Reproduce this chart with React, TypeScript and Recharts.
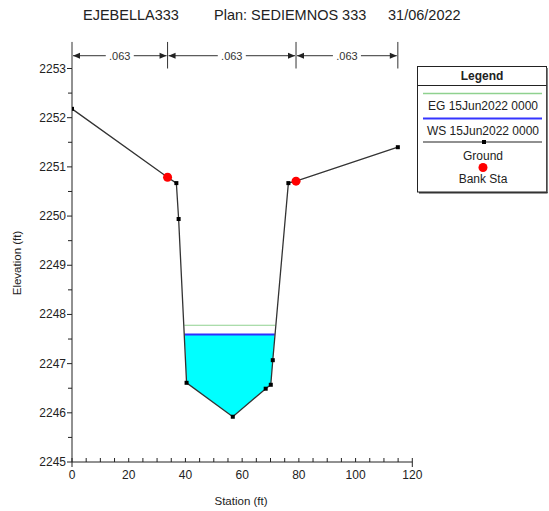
import React from 'react';
import { ComposedChart, Line, Area, XAxis, YAxis, ReferenceLine } from 'recharts';

// cross section ground (station ft, elevation ft)
const stations = [0, 33.7, 36.8, 37.6, 40.4, 56.7, 68.3, 70.1, 70.8, 76.3, 79.0, 114.9];
const elevations = [2252.18, 2250.79, 2250.67, 2249.94, 2246.61, 2245.92, 2246.49, 2246.57, 2247.07, 2250.67, 2250.71, 2251.40];
const bankStations = [33.7, 79.0];
const bankElevations = [2250.79, 2250.71];

const wsElev = 2247.59;
const wsEdges = [39.7, 71.5];
const egElev = 2247.78;
const egEdges = [39.6, 71.6];

// manning's n breaks along top
const nBreaks = [0, 33.7, 79.0, 114.9];
const nValues = ['.063', '.063', '.063'];

const xTicks = [0, 5, 10, 15, 20, 25, 30, 35, 40, 45, 50, 55, 60, 65, 70, 75, 80, 85, 90, 95, 100, 105, 110, 115, 120];
const yTicks = [2245, 2245.5, 2246, 2246.5, 2247, 2247.5, 2248, 2248.5, 2249, 2249.5, 2250, 2250.5, 2251, 2251.5, 2252, 2252.5, 2253];

const FONT = "'Liberation Sans', Arial, sans-serif";
const INK = '#222';

const ground = stations.map((x, i) => ({ x, y: elevations[i] }));
const banks = bankStations.map((x, i) => ({ x, y: bankElevations[i] }));
const wsLine = wsEdges.map(x => ({ x, y: wsElev }));
const egLine = egEdges.map(x => ({ x, y: egElev }));
const water = [
    { x: wsEdges[0], wet: [wsElev, wsElev] },
    ...ground.filter(p => p.x > wsEdges[0] && p.x < wsEdges[1]).map(p => ({ x: p.x, wet: [p.y, wsElev] })),
    { x: wsEdges[1], wet: [wsElev, wsElev] },
];

const XTick = ({ x, y, payload }: any) => {
    const v = payload.value;
    const major = v % 20 === 0;
    const end = v === 0 || v === 120;
    return (
        <g>
            <line x1={x} x2={x} y1={y - 4} y2={end ? y + 5 : y} stroke={INK} />
            {major && (
                <text x={x} y={y + 17} textAnchor="middle" fontSize={12} fontFamily={FONT} fill={INK}>{v}</text>
            )}
        </g>
    );
};

const YTick = ({ x, y, payload }: any) => {
    const v = payload.value;
    const major = Number.isInteger(v);
    return (
        <g>
            <line x1={x - (major ? 5 : 4)} x2={x} y1={y} y2={y} stroke={INK} />
            {major && (
                <text x={x - 6} y={y + 4} textAnchor="end" fontSize={12} fontFamily={FONT} fill={INK}>{v}</text>
            )}
        </g>
    );
};

const square = ({ cx, cy, index }: any) => (
    <rect key={`g${index}`} x={cx - 2} y={cy - 2} width={4} height={4} fill="#000" />
);

const bankDot = ({ cx, cy, index }: any) => (
    <circle key={`b${index}`} cx={cx} cy={cy} r={4.5} fill="#ff0000" />
);

const nArrow = (label: string) => (p: any) => {
    const { x1, x2, y1 } = p;
    const lo = Math.min(x1, x2), hi = Math.max(x1, x2);
    const mid = (lo + hi) / 2;
    const y = y1;
    return (
        <g>
            <line x1={lo + 1} x2={mid - 14} y1={y} y2={y} stroke="#333" />
            <line x1={mid + 14} x2={hi - 1} y1={y} y2={y} stroke="#333" />
            <polygon points={`${lo + 1},${y} ${lo + 8},${y - 3} ${lo + 8},${y + 3}`} fill="#222" />
            <polygon points={`${hi - 1},${y} ${hi - 8},${y - 3} ${hi - 8},${y + 3}`} fill="#222" />
            <text x={mid} y={y + 4} textAnchor="middle" fontSize={11} fontFamily={FONT} fill="#333">{label}</text>
        </g>
    );
};

const LegendBox = () => (
    <svg width={549} height={511} style={{ position: 'absolute', left: 0, top: 0, pointerEvents: 'none' }}>
        <g fontFamily={FONT} fontSize={12} fill={INK} textAnchor="middle">
            <rect x={417.5} y={66.5} width={129} height={125.5} fill="#fff" stroke={INK} />
            <line x1={547} x2={547} y1={68} y2={193} stroke="#555" strokeWidth={1.5} />
            <line x1={419} x2={547.5} y1={192.8} y2={192.8} stroke="#333" strokeWidth={1.5} />
            <line x1={417.5} x2={546.5} y1={85.5} y2={85.5} stroke={INK} />
            <text x={482} y={80} fontWeight="bold">Legend</text>
            <line x1={423} x2={542} y1={93.5} y2={93.5} stroke="#8fd18f" strokeWidth={1.5} />
            <text x={483} y={109.5}>EG 15Jun2022 0000</text>
            <line x1={423} x2={542} y1={118.5} y2={118.5} stroke="#3535ff" strokeWidth={2} />
            <text x={483} y={134.5}>WS 15Jun2022 0000</text>
            <line x1={423} x2={542} y1={142} y2={142} stroke={INK} strokeWidth={1.2} />
            <rect x={482} y={140} width={4} height={4} fill="#000" />
            <text x={483} y={160}>Ground</text>
            <circle cx={483} cy={167.5} r={4.5} fill="#ff0000" />
            <text x={483} y={183}>Bank Sta</text>
        </g>
        <g fontFamily={FONT} fill={INK}>
            <text x={83} y={20} fontSize={14.5}>EJEBELLA333</text>
            <text x={214} y={20} fontSize={14.5}>Plan: SEDIEMNOS 333</text>
            <text x={388} y={20} fontSize={14.5}>31/06/2022</text>
            <text x={241} y={505} fontSize={11.5} textAnchor="middle">Station (ft)</text>
            <text x={21} y={263} fontSize={11.5} textAnchor="middle" transform="rotate(-90 21 263)">Elevation (ft)</text>
        </g>
    </svg>
);

export default function App() {
    return (
        <div style={{ position: 'absolute', left: 0, top: 0, width: 549, height: 511, background: '#fff' }}>
            <ComposedChart width={549} height={511} margin={{ top: 68.5, right: 136.7, bottom: 0, left: 0 }}>
                <XAxis
                    type="number" dataKey="x" domain={[0, 120]} ticks={xTicks} interval={0}
                    height={49} tickSize={0} tickMargin={0} tickLine={false} tick={<XTick />}
                    stroke={INK} allowDataOverflow
                />
                <YAxis
                    type="number" domain={[2245, 2253]} ticks={yTicks} interval={0}
                    width={72} tickSize={0} tickMargin={0} tickLine={false} tick={<YTick />}
                    stroke={INK} allowDataOverflow
                />
                <Area data={water} dataKey="wet" type="linear" fill="#00ffff" fillOpacity={1} stroke="none" isAnimationActive={false} />
                <Line data={egLine} dataKey="y" stroke="#8fd18f" strokeWidth={1.2} dot={false} isAnimationActive={false} />
                <Line data={wsLine} dataKey="y" stroke="#2f2fff" strokeWidth={2} dot={false} isAnimationActive={false} />
                <Line data={ground} dataKey="y" stroke="#333" strokeWidth={1.3} dot={square} activeDot={false} isAnimationActive={false} />
                <Line data={banks} dataKey="y" stroke="none" dot={bankDot} activeDot={false} isAnimationActive={false} />
                {nBreaks.map(s => (
                    <ReferenceLine key={`v${s}`} segment={[{ x: s, y: 2253 }, { x: s, y: 2253.54 }]} stroke="#333" ifOverflow="visible" />
                ))}
                {nValues.map((n, i) => (
                    <ReferenceLine
                        key={`n${i}`}
                        segment={[{ x: nBreaks[i], y: 2253.26 }, { x: nBreaks[i + 1], y: 2253.26 }]}
                        ifOverflow="visible"
                        shape={nArrow(n)}
                    />
                ))}
            </ComposedChart>
            <LegendBox />
        </div>
    );
}
